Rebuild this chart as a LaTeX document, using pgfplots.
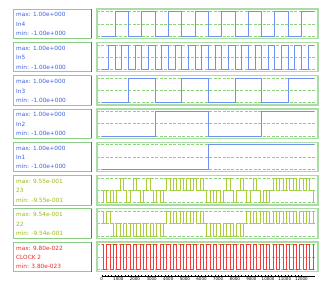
\documentclass[border=0pt]{standalone}
\usepackage{pgfplots}
\pgfplotsset{compat=1.18}
\usepackage{fontspec}
\setmainfont{DejaVu Sans}
\definecolor{blueline}{RGB}{110,145,242}
\definecolor{bluetext}{RGB}{60,95,225}
\definecolor{ygline}{RGB}{170,205,60}
\definecolor{ygtext}{RGB}{150,185,20}
\definecolor{redline}{RGB}{242,60,60}
\definecolor{redtext}{RGB}{235,40,40}
\definecolor{boxgreen}{RGB}{170,220,165}
\definecolor{gridgreen}{RGB}{140,210,125}
\definecolor{lbox}{RGB}{140,205,135}
\definecolor{lboxdark}{RGB}{40,150,40}
\newcommand\lfont{\fontsize{5.8}{6}\selectfont}
\newcommand\lbox[5]{%
  \draw[lbox, line width=0.8pt] (13,{288-#1}) rectangle (91,{288-#1-29.5});
  \draw[lboxdark, line width=0.9pt] (91,{288-#1}) -- (91,{288-#1-29.5});
  \node[anchor=west, text=#2, font=\lfont, inner sep=0] at (16,{288-#1-5.8}) {#3};
  \node[anchor=west, text=#2, font=\lfont, inner sep=0] at (16,{288-#1-15.3}) {#4};
  \node[anchor=west, text=#2, font=\lfont, inner sep=0] at (16,{288-#1-24.6}) {#5};
}
\pgfplotsset{sig/.style={scale only axis, width=221bp, height=29.5bp,
  xmin=-280, xmax=13000, ymin=-1.2, ymax=1.2,
  axis line style={draw=boxgreen, line width=1.3pt},
  xtick=\empty, ytick={-1,0,1}, yticklabels={}, major tick length=0pt,
  ymajorgrids, grid style={dashed, draw=gridgreen, line width=0.45pt, dash pattern=on 3pt off 1.5pt},
  anchor=north west, clip=true}}
\begin{document}
\begin{tikzpicture}
\begin{scope}[x=1bp,y=1bp]
\useasboundingbox (0,0) rectangle (332,288);
\lbox{9}{bluetext}{max: 1.00e+000}{In4}{min: -1.00e+000}
\lbox{42.3}{bluetext}{max: 1.00e+000}{In5}{min: -1.00e+000}
\lbox{75.6}{bluetext}{max: 1.00e+000}{In3}{min: -1.00e+000}
\lbox{108.9}{bluetext}{max: 1.00e+000}{In2}{min: -1.00e+000}
\lbox{142.2}{bluetext}{max: 1.00e+000}{In1}{min: -1.00e+000}
\lbox{175.5}{ygtext}{max: 9.55e-001}{23}{min: -9.55e-001}
\lbox{208.8}{ygtext}{max: 9.54e-001}{22}{min: -9.54e-001}
\lbox{242.1}{redtext}{max: 9.80e-022}{CLOCK 2}{min: 3.80e-023}
\end{scope}

\begin{axis}[sig, at={(97bp,279bp)}]
\addplot[const plot, blueline, line width=0.5pt] coordinates {(0,-1)(800,1)(1600,-1)(2400,1)(3200,-1)(4000,1)(4800,-1)(5600,1)(6400,-1)(7200,1)(8000,-1)(8800,1)(9600,-1)(10400,1)(11200,-1)(12000,1)(12760,1)};
\end{axis}
\begin{axis}[sig, at={(97bp,245.7bp)}]
\addplot[const plot, blueline, line width=0.5pt] coordinates {(0,-1)(400,1)(800,-1)(1200,1)(1600,-1)(2000,1)(2400,-1)(2800,1)(3200,-1)(3600,1)(4000,-1)(4400,1)(4800,-1)(5200,1)(5600,-1)(6000,1)(6400,-1)(6800,1)(7200,-1)(7600,1)(8000,-1)(8400,1)(8800,-1)(9200,1)(9600,-1)(10000,1)(10400,-1)(10800,1)(11200,-1)(11600,1)(12000,-1)(12400,1)(12760,1)};
\end{axis}
\begin{axis}[sig, at={(97bp,212.4bp)}]
\addplot[const plot, blueline, line width=0.5pt] coordinates {(0,-1)(1600,1)(3200,-1)(4800,1)(6400,-1)(8000,1)(9600,-1)(11200,1)(12760,1)};
\end{axis}
\begin{axis}[sig, at={(97bp,179.1bp)}]
\addplot[const plot, blueline, line width=0.5pt] coordinates {(0,-1)(3200,1)(6400,-1)(9600,1)(12760,1)};
\end{axis}
\begin{axis}[sig, at={(97bp,145.8bp)}]
\addplot[const plot, blueline, line width=0.5pt] coordinates {(0,-1)(6400,1)(12760,1)};
\end{axis}
\begin{axis}[sig, at={(97bp,112.5bp)}, ytick={-0.955,0,0.955}, ymin=-1.146, ymax=1.146]
\addplot[const plot, ygline, line width=0.5pt] coordinates {(0,-0.955)(100,0)(300,-0.955)(500,0)(700,-0.955)(900,0)(1100,0.955)(1300,0)(1500,-0.955)(1700,0)(1900,0.955)(2100,0)(2300,-0.955)(2500,0)(2700,0.955)(2900,0)(3100,-0.955)(3300,0)(3500,-0.955)(3700,0)(3900,0.955)(4100,0)(4300,0.955)(4500,0)(4700,0.955)(4900,0)(5100,0.955)(5300,0)(5500,0.955)(5700,0)(5900,0.955)(6100,0)(6300,-0.955)(6500,0)(6700,-0.955)(6900,0)(7100,-0.955)(7300,0)(7500,0.955)(7700,0)(7900,-0.955)(8100,0)(8300,0.955)(8500,0)(8700,-0.955)(8900,0)(9100,0.955)(9300,0)(9500,-0.955)(9700,0)(9900,-0.955)(10100,0)(10300,0.955)(10500,0)(10700,0.955)(10900,0)(11100,0.955)(11300,0)(11500,0.955)(11700,0)(11900,0.955)(12100,0)(12300,0.955)(12500,0)(12700,-0.955)(12760,-0.955)};
\end{axis}
\begin{axis}[sig, at={(97bp,79.2bp)}, ytick={-0.954,0,0.954}, ymin=-1.145, ymax=1.145]
\addplot[const plot, ygline, line width=0.5pt] coordinates {(0,0.954)(100,0)(300,0.954)(500,0)(700,-0.954)(900,0)(1100,-0.954)(1300,0)(1500,-0.954)(1700,0)(1900,-0.954)(2100,0)(2300,-0.954)(2500,0)(2700,-0.954)(2900,0)(3100,-0.954)(3300,0)(3500,-0.954)(3700,0)(3900,0.954)(4100,0)(4300,0.954)(4500,0)(4700,0.954)(4900,0)(5100,0.954)(5300,0)(5500,0.954)(5700,0)(5900,0.954)(6100,0)(6300,-0.954)(6500,0)(6700,-0.954)(6900,0)(7100,-0.954)(7300,0)(7500,-0.954)(7700,0)(7900,-0.954)(8100,0)(8300,-0.954)(8500,0)(8700,0.954)(8900,0)(9100,0.954)(9300,0)(9500,0.954)(9700,0)(9900,0.954)(10100,0)(10300,0.954)(10500,0)(10700,0.954)(10900,0)(11100,0.954)(11300,0)(11500,0.954)(11700,0)(11900,0.954)(12100,0)(12300,0.954)(12500,0)(12700,0.954)(12760,0.954)};
\end{axis}
% CLOCK 2, values in units of 1e-22
\begin{axis}[sig, at={(97bp,45.9bp)}, ytick={0.38,5.09,9.8}, ymin=-0.56, ymax=10.74]
\addplot[const plot, redline, line width=0.5pt] coordinates {(0,9.8)(100,0.38)(300,9.8)(500,0.38)(700,9.8)(900,0.38)(1100,9.8)(1300,0.38)(1500,9.8)(1700,0.38)(1900,9.8)(2100,0.38)(2300,9.8)(2500,0.38)(2700,9.8)(2900,0.38)(3100,9.8)(3300,0.38)(3500,9.8)(3700,0.38)(3900,9.8)(4100,0.38)(4300,9.8)(4500,0.38)(4700,9.8)(4900,0.38)(5100,9.8)(5300,0.38)(5500,9.8)(5700,0.38)(5900,9.8)(6100,0.38)(6300,9.8)(6500,0.38)(6700,9.8)(6900,0.38)(7100,9.8)(7300,0.38)(7500,9.8)(7700,0.38)(7900,9.8)(8100,0.38)(8300,9.8)(8500,0.38)(8700,9.8)(8900,0.38)(9100,9.8)(9300,0.38)(9500,9.8)(9700,0.38)(9900,9.8)(10100,0.38)(10300,9.8)(10500,0.38)(10700,9.8)(10900,0.38)(11100,9.8)(11300,0.38)(11500,9.8)(11700,0.38)(11900,9.8)(12100,0.38)(12300,9.8)(12500,0.38)(12700,9.8)(12760,9.8)};
\end{axis}
% time axis
\begin{axis}[scale only axis, width=213bp, height=2bp, anchor=south west, at={(101.66bp,12.3bp)},
  xmin=0, xmax=12800, ymin=0, ymax=1, axis x line=bottom, hide y axis,
  axis line style={-, black, line width=0.4pt},
  xtick={0,1000,...,12000}, minor x tick num=4, tick align=center,
  major tick length=2bp, minor tick length=1.5bp, tick style={black, line width=0.3pt},
  xticklabel style={font=\fontsize{4}{4}\selectfont, inner sep=0.5pt},
  scaled x ticks=false, /pgf/number format/set thousands separator={},
  /pgf/number format/assume math mode=true]
\addplot[draw=none] coordinates {(0,0)(12800,0)};
\end{axis}
\end{tikzpicture}
\end{document}
